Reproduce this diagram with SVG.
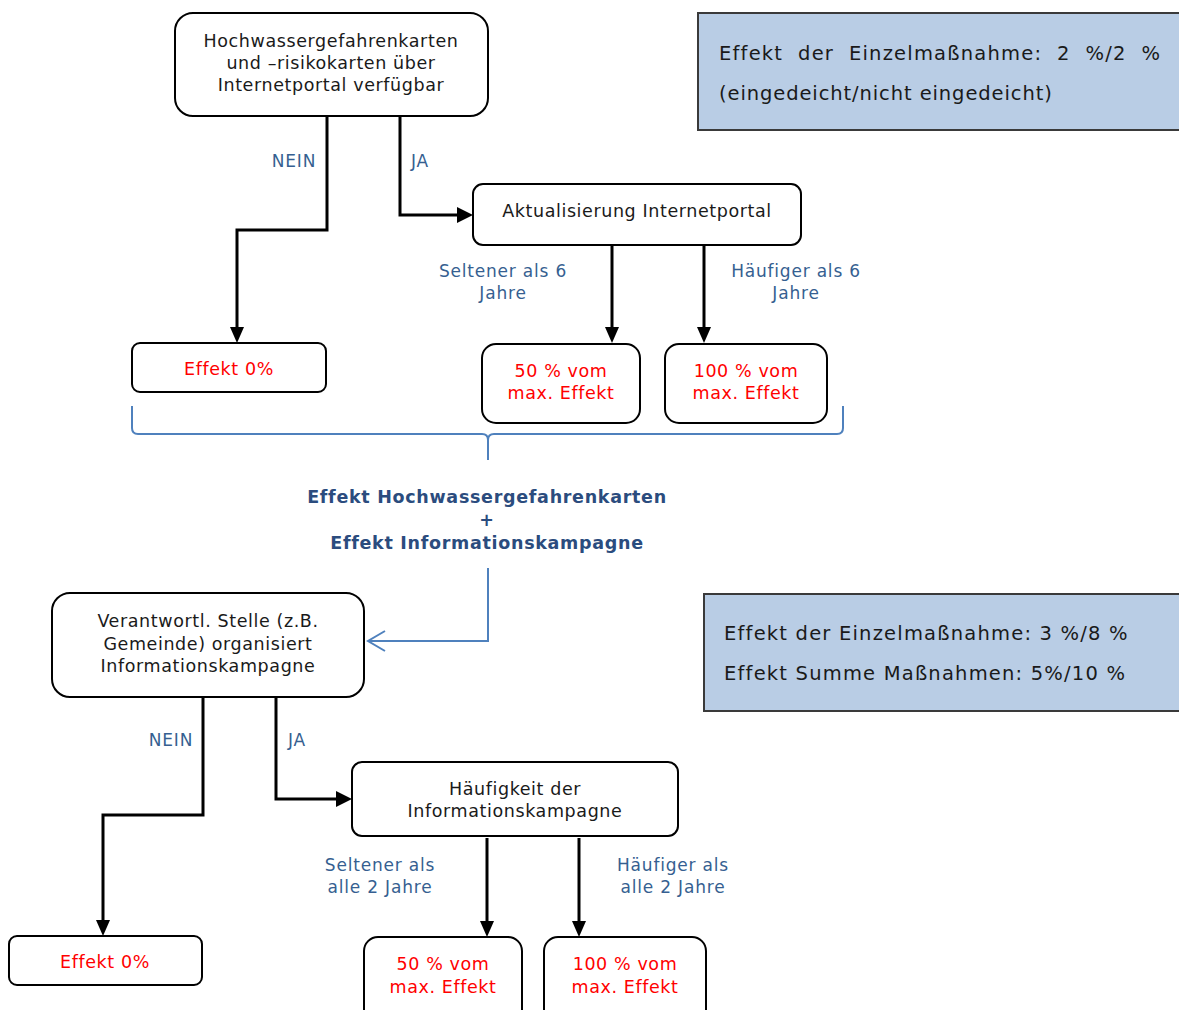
<svg xmlns="http://www.w3.org/2000/svg" width="1179" height="1010" viewBox="0 0 1179 1010">
<defs>
<style>
.box{fill:#fff;stroke:#000;stroke-width:2}
.info{fill:#b9cde5;stroke:#3a3a3a;stroke-width:2}
.t{font-family:"DejaVu Sans",Verdana,sans-serif;font-size:17.5px;letter-spacing:0.6px;fill:#1a1a1a;text-anchor:middle}
.r{fill:#ff0000}
.lbl{font-family:"DejaVu Sans",Verdana,sans-serif;font-size:17px;letter-spacing:0.8px;fill:#365f91;text-anchor:middle}
.bt{font-family:"DejaVu Sans",Verdana,sans-serif;font-size:17.5px;font-weight:bold;letter-spacing:0.7px;fill:#2b4c7e;text-anchor:middle}
.it{font-family:"DejaVu Sans",Verdana,sans-serif;font-size:19.5px;letter-spacing:1.2px;fill:#1a1a1a}
.it2{letter-spacing:0.9px}
.c{fill:none;stroke:#000;stroke-width:3}
.b{fill:none;stroke:#4f81bd;stroke-width:2}
</style>
</defs>
<g id="connectors">
<path class="c" d="M327,116 V230 H237 V328"/>
<path d="M230,327 L244,327 L237,343 z" fill="#000"/>
<path class="c" d="M400,116 V215 H458"/>
<path d="M457,207 L473,215 L457,223 z" fill="#000"/>
<path class="c" d="M612,245 V328"/>
<path d="M605,327 L619,327 L612,343 z" fill="#000"/>
<path class="c" d="M704,245 V328"/>
<path d="M697,327 L711,327 L704,343 z" fill="#000"/>
<path class="b" d="M132,406 V428 Q132,434 138,434 H482 Q488,434 488,440 V460 M488,440 Q488,434 494,434 H837 Q843,434 843,428 V406"/>
<path class="b" d="M488,568 V641 H368"/>
<path class="b" d="M385,631 L368,641 L385,651"/>
<path class="c" d="M203,697 V815 H103 V921"/>
<path d="M96,920 L110,920 L103,936 z" fill="#000"/>
<path class="c" d="M276,697 V799 H337"/>
<path d="M336,791 L352,799 L336,807 z" fill="#000"/>
<path class="c" d="M487,838 V922"/>
<path d="M480,921 L494,921 L487,937 z" fill="#000"/>
<path class="c" d="M579,838 V922"/>
<path d="M572,921 L586,921 L579,937 z" fill="#000"/>
</g>
<g id="n1"><rect class="box" x="175" y="13" width="313" height="103" rx="18"/>
<text class="t" x="331" y="47">Hochwassergefahrenkarten</text>
<text class="t" x="331" y="69">und –risikokarten über</text>
<text class="t" x="331" y="91">Internetportal verfügbar</text></g>
<g id="info1"><rect class="info" x="698" y="13" width="490" height="117"/>
<text class="it" x="719" y="60" word-spacing="7.5">Effekt der Einzelmaßnahme: 2 %/2 %</text>
<text class="it it2" x="719" y="100">(eingedeicht/nicht eingedeicht)</text></g>
<g id="lbl1"><text class="lbl" x="294" y="167">NEIN</text><text class="lbl" x="420" y="167">JA</text></g>
<g id="n2"><rect class="box" x="473" y="184" width="328" height="61" rx="10"/>
<text class="t" x="637" y="217">Aktualisierung Internetportal</text></g>
<g id="lbl2"><text class="lbl" x="503" y="277">Seltener als 6</text><text class="lbl" x="503" y="299">Jahre</text>
<text class="lbl" x="796" y="277">Häufiger als 6</text><text class="lbl" x="796" y="299">Jahre</text></g>
<g id="n3"><rect class="box" x="132" y="343" width="194" height="49" rx="8"/>
<text class="t r" x="229" y="375">Effekt 0%</text></g>
<g id="n4"><rect class="box" x="482" y="344" width="158" height="79" rx="14"/>
<text class="t r" x="561" y="377">50 % vom</text><text class="t r" x="561" y="399">max. Effekt</text></g>
<g id="n5"><rect class="box" x="665" y="344" width="162" height="79" rx="14"/>
<text class="t r" x="746" y="377">100 % vom</text><text class="t r" x="746" y="399">max. Effekt</text></g>
<g id="sum"><text class="bt" x="487" y="503">Effekt Hochwassergefahrenkarten</text>
<text class="bt" x="487" y="526">+</text>
<text class="bt" x="487" y="549">Effekt Informationskampagne</text></g>
<g id="n6"><rect class="box" x="52" y="593" width="312" height="104" rx="18"/>
<text class="t" x="208" y="627">Verantwortl. Stelle (z.B.</text>
<text class="t" x="208" y="650">Gemeinde) organisiert</text>
<text class="t" x="208" y="672">Informationskampagne</text></g>
<g id="info2"><rect class="info" x="704" y="594" width="490" height="117"/>
<text class="it" x="724" y="640">Effekt der Einzelmaßnahme: 3 %/8 %</text>
<text class="it" x="724" y="680">Effekt Summe Maßnahmen: 5%/10 %</text></g>
<g id="lbl3"><text class="lbl" x="171" y="746">NEIN</text><text class="lbl" x="297" y="746">JA</text></g>
<g id="n7"><rect class="box" x="352" y="762" width="326" height="74" rx="10"/>
<text class="t" x="515" y="795">Häufigkeit der</text>
<text class="t" x="515" y="817">Informationskampagne</text></g>
<g id="lbl4"><text class="lbl" x="380" y="871">Seltener als</text><text class="lbl" x="380" y="893">alle 2 Jahre</text>
<text class="lbl" x="673" y="871">Häufiger als</text><text class="lbl" x="673" y="893">alle 2 Jahre</text></g>
<g id="n8"><rect class="box" x="9" y="936" width="193" height="49" rx="8"/>
<text class="t r" x="105" y="968">Effekt 0%</text></g>
<g id="n9"><rect class="box" x="364" y="937" width="158" height="90" rx="14"/>
<text class="t r" x="443" y="970">50 % vom</text><text class="t r" x="443" y="993">max. Effekt</text></g>
<g id="n10"><rect class="box" x="544" y="937" width="162" height="90" rx="14"/>
<text class="t r" x="625" y="970">100 % vom</text><text class="t r" x="625" y="993">max. Effekt</text></g>
</svg>
